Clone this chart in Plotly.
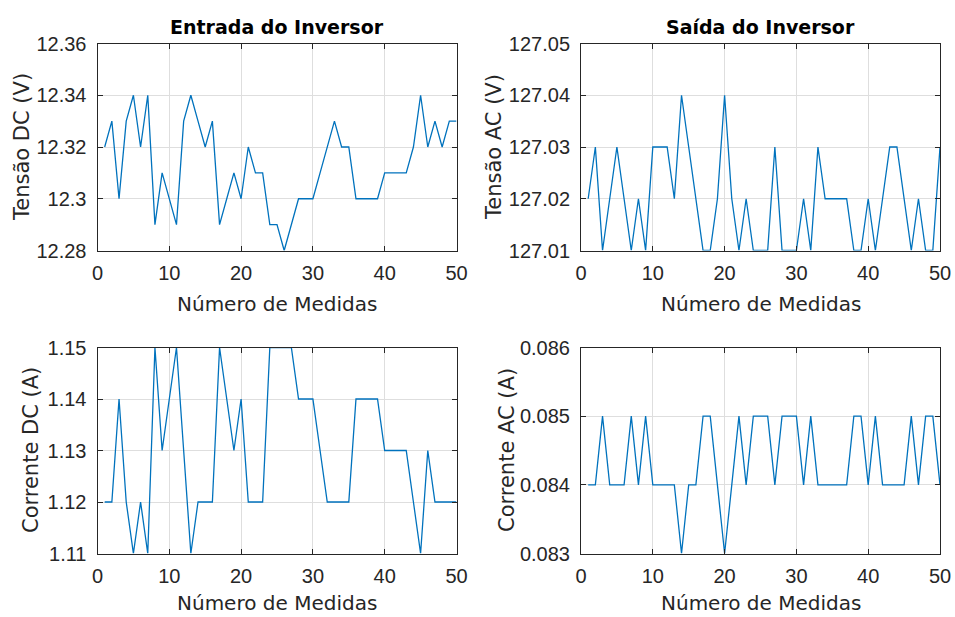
import plotly.graph_objects as go

# Measurement index
medidas = list(range(1, 51))

# Inverter input (DC side)
tensao_dc = [12.32, 12.33, 12.30, 12.33, 12.34, 12.32, 12.34, 12.29, 12.31, 12.30,
             12.29, 12.33, 12.34, 12.33, 12.32, 12.33, 12.29, 12.30, 12.31, 12.30,
             12.32, 12.31, 12.31, 12.29, 12.29, 12.28, 12.29, 12.30, 12.30, 12.30,
             12.31, 12.32, 12.33, 12.32, 12.32, 12.30, 12.30, 12.30, 12.30, 12.31,
             12.31, 12.31, 12.31, 12.32, 12.34, 12.32, 12.33, 12.32, 12.33, 12.33]

corrente_dc = [1.12, 1.12, 1.14, 1.12, 1.11, 1.12, 1.11, 1.15, 1.13, 1.14,
               1.15, 1.13, 1.11, 1.12, 1.12, 1.12, 1.15, 1.14, 1.13, 1.14,
               1.12, 1.12, 1.12, 1.15, 1.15, 1.15, 1.15, 1.14, 1.14, 1.14,
               1.13, 1.12, 1.12, 1.12, 1.12, 1.14, 1.14, 1.14, 1.14, 1.13,
               1.13, 1.13, 1.13, 1.12, 1.11, 1.13, 1.12, 1.12, 1.12, 1.12]

# Inverter output (AC side)
tensao_ac = [127.02, 127.03, 127.01, 127.02, 127.03, 127.02, 127.01, 127.02, 127.01, 127.03,
             127.03, 127.03, 127.02, 127.04, 127.03, 127.02, 127.01, 127.01, 127.02, 127.04,
             127.02, 127.01, 127.02, 127.01, 127.01, 127.01, 127.03, 127.01, 127.01, 127.01,
             127.02, 127.01, 127.03, 127.02, 127.02, 127.02, 127.02, 127.01, 127.01, 127.02,
             127.01, 127.02, 127.03, 127.03, 127.02, 127.01, 127.02, 127.01, 127.01, 127.03]

corrente_ac = [0.084, 0.084, 0.085, 0.084, 0.084, 0.084, 0.085, 0.084, 0.085, 0.084,
               0.084, 0.084, 0.084, 0.083, 0.084, 0.084, 0.085, 0.085, 0.084, 0.083,
               0.084, 0.085, 0.084, 0.085, 0.085, 0.085, 0.084, 0.085, 0.085, 0.085,
               0.084, 0.085, 0.084, 0.084, 0.084, 0.084, 0.084, 0.085, 0.085, 0.084,
               0.085, 0.084, 0.084, 0.084, 0.084, 0.085, 0.084, 0.085, 0.085, 0.084]

# Tick labels
x_ticks = [0, 10, 20, 30, 40, 50]
tdc_ticks = [12.28, 12.30, 12.32, 12.34, 12.36]
tdc_labels = ["12.28", "12.3", "12.32", "12.34", "12.36"]
tac_ticks = [127.01, 127.02, 127.03, 127.04, 127.05]
tac_labels = ["127.01", "127.02", "127.03", "127.04", "127.05"]
cdc_ticks = [1.11, 1.12, 1.13, 1.14, 1.15]
cdc_labels = ["1.11", "1.12", "1.13", "1.14", "1.15"]
cac_ticks = [0.083, 0.084, 0.085, 0.086]
cac_labels = ["0.083", "0.084", "0.085", "0.086"]

W, H = 955, 617
LINE = "#0072BD"
AX = "#262626"
GRID = "#dedede"
TICK_FONT = dict(family="Liberation Sans, Arial, sans-serif", size=20, color=AX)
XLABEL_FONT = dict(family="DejaVu Sans, sans-serif", size=20, color=AX)
YLABEL_FONT = dict(family="DejaVu Sans, sans-serif", size=21, color=AX)
TITLE_FONT = dict(family="DejaVu Sans, sans-serif", size=19, color="#000000")

# Plot-area boxes in pixels: (left, right, top, bottom)
boxes = {
    1: (97.5, 456.5, 43.5, 250.5),
    2: (581.0, 940.0, 43.5, 250.5),
    3: (97.5, 456.5, 347.5, 553.5),
    4: (581.0, 940.0, 347.5, 553.5),
}

panels = [
    (1, tensao_dc, [12.28, 12.36], tdc_ticks, tdc_labels),
    (2, tensao_ac, [127.01, 127.05], tac_ticks, tac_labels),
    (3, corrente_dc, [1.11, 1.15], cdc_ticks, cdc_labels),
    (4, corrente_ac, [0.083, 0.086], cac_ticks, cac_labels),
]

fig = go.Figure()
layout = {}
for i, ys, yr, yt, yl in panels:
    sfx = "" if i == 1 else str(i)
    fig.add_trace(go.Scatter(
        x=medidas, y=ys, mode="lines",
        line=dict(color=LINE, width=1.3),
        xaxis="x" + sfx, yaxis="y" + sfx, showlegend=False,
        hoverinfo="x+y",
    ))
    l, r, t, b = boxes[i]
    common = dict(
        showline=True, linecolor=AX, linewidth=1, mirror="ticks",
        ticks="inside", ticklen=5, tickwidth=1, tickcolor=AX,
        showgrid=True, gridcolor=GRID, gridwidth=1,
        zeroline=False, tickfont=TICK_FONT, automargin=False,
    )
    layout["xaxis" + sfx] = dict(
        common, domain=[l / W, r / W], range=[0, 50],
        tickvals=x_ticks, ticktext=[str(v) for v in x_ticks],
        anchor="y" + sfx, ticklabelstandoff=4,
    )
    layout["yaxis" + sfx] = dict(
        common, domain=[1 - b / H, 1 - t / H], range=yr,
        tickvals=yt, ticktext=yl,
        anchor="x" + sfx, ticklabelstandoff=6,
    )

annotations = []


def add_text(text, x_px, y_px, font, angle=0):
    annotations.append(dict(
        text=text, x=x_px / W, y=1 - y_px / H, xref="paper", yref="paper",
        xanchor="center", yanchor="middle", showarrow=False,
        font=font, textangle=angle, borderpad=0,
    ))


# Column titles
add_text("<b>Entrada do Inversor</b>", 277, 27, TITLE_FONT)
add_text("<b>Saída do Inversor</b>", 760.5, 27, TITLE_FONT)

# X-axis labels
for cx in (277, 760.5):
    add_text("Número de Medidas", cx, 304, XLABEL_FONT)
    add_text("Número de Medidas", cx, 603, XLABEL_FONT)

# Y-axis labels
add_text("Tensão DC (V)", 22, 147, YLABEL_FONT, -90)
add_text("Tensão AC (V)", 494, 147, YLABEL_FONT, -90)
add_text("Corrente DC (A)", 31, 450, YLABEL_FONT, -90)
add_text("Corrente AC (A)", 507, 450, YLABEL_FONT, -90)

fig.update_layout(
    width=W, height=H,
    margin=dict(l=0, r=0, t=0, b=0),
    paper_bgcolor="white", plot_bgcolor="white",
    annotations=annotations,
    **layout,
)

fig.write_html("out.html")
